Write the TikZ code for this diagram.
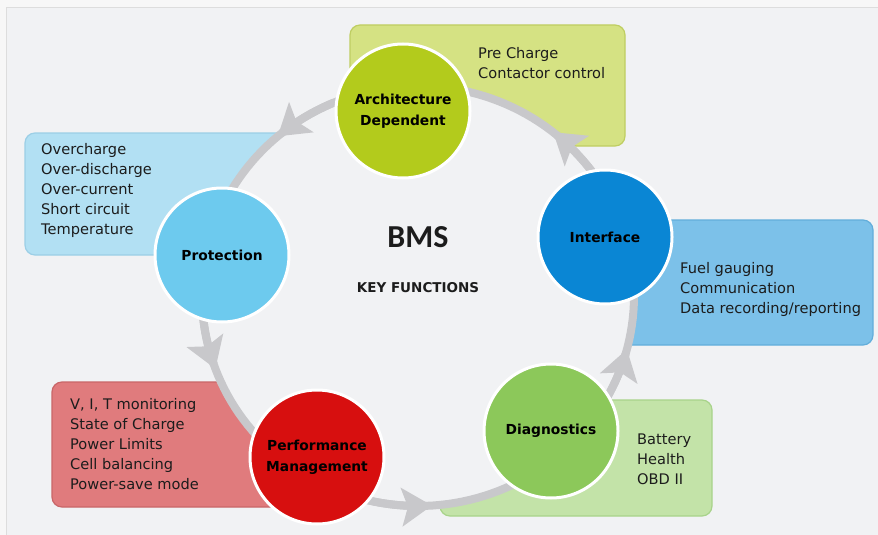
\documentclass[tikz,border=0pt]{standalone}
\usepackage{fontspec}
\setmainfont{DejaVu Sans}
\newfontfamily\bmsfont{Carlito}
\usetikzlibrary{arrows.meta}
\definecolor{outerbg}{HTML}{F7F7F7}
\definecolor{bg}{HTML}{F1F2F4}
\definecolor{framec}{HTML}{DDDDDD}
\definecolor{bandc}{HTML}{C8C8CB}
\definecolor{txt}{HTML}{1C1C1C}
\definecolor{olivebox}{HTML}{D5E283}
\definecolor{oliveedge}{HTML}{BFCE62}
\definecolor{archc}{HTML}{B3CB1C}
\definecolor{protbox}{HTML}{B2E0F3}
\definecolor{protedge}{HTML}{9CCFE6}
\definecolor{protc}{HTML}{6DCAEE}
\definecolor{intbox}{HTML}{7CC1E9}
\definecolor{intedge}{HTML}{62AEDB}
\definecolor{intc}{HTML}{0A86D4}
\definecolor{perfbox}{HTML}{E07B7D}
\definecolor{perfedge}{HTML}{C96668}
\definecolor{perfc}{HTML}{D70F0F}
\definecolor{diagbox}{HTML}{C3E3A8}
\definecolor{diagedge}{HTML}{A8D38A}
\definecolor{diagc}{HTML}{8CC85A}
\begin{document}
\begin{tikzpicture}[x=1pt,y=-1pt,
  infobox/.style={draw, line width=1.2pt, rounded corners=10pt, inner sep=0pt},
  keycircle/.style={circle, draw=white, line width=3pt, minimum size=134pt, inner sep=0pt,
    align=center, text=black, font=\bfseries\fontsize{13.8}{21}\selectfont},
  boxtext/.style={anchor=west, align=left, inner sep=0pt, text=txt,
    font=\fontsize{14.6}{20}\selectfont},
  flow/.style={draw=bandc, line width=8pt, -{Stealth[length=30pt,width=38pt,inset=6pt]}}]
\useasboundingbox (0,0) rectangle (878,535);
\fill[outerbg] (0,0) rectangle (878,535);
\fill[bg] (6,8) rectangle (878,535);
\draw[framec, line width=1pt] (6,535) -- (6,8) -- (878,8);

% boxes
\node[infobox, fill=olivebox, draw=oliveedge, minimum width=275pt, minimum height=121pt] (abox) at (487.5,85.5) {};
\node[infobox, fill=protbox, draw=protedge, minimum width=275pt, minimum height=122pt] (pbox) at (162.5,194) {};
\node[infobox, fill=intbox, draw=intedge, minimum width=273pt, minimum height=125pt] (ibox) at (736.5,282.5) {};
\node[infobox, fill=perfbox, draw=perfedge, minimum width=248pt, minimum height=125pt] (mbox) at (176,444.5) {};
\node[infobox, fill=diagbox, draw=diagedge, minimum width=272pt, minimum height=116pt] (dbox) at (576,458) {};

% ring interior and band
\fill[bg] plot[domain=0:360,samples=181] ({418+216*cos(\x)},{296+210*sin(\x)}) -- cycle;
\draw[bandc, line width=8pt] plot[domain=0:360,samples=181] ({418+216*cos(\x)},{296+210*sin(\x)}) -- cycle;

% arrowheads along the ring (behind the circles)
\draw[flow] plot[domain=34:51.3,samples=14] ({418+216*cos(-\x)},{296+210*sin(-\x)});
\draw[flow] plot[domain=113:130.5,samples=14] ({418+216*cos(-\x)},{296+210*sin(-\x)});
\draw[flow] plot[domain=183:200.3,samples=14] ({418+216*cos(-\x)},{296+210*sin(-\x)});
\draw[flow] plot[domain=256:273.7,samples=14] ({418+216*cos(-\x)},{296+210*sin(-\x)});
\draw[flow] plot[domain=328:345.3,samples=14] ({418+216*cos(-\x)},{296+210*sin(-\x)});

% key function circles
\node[keycircle, fill=archc] (arch) at (403,111) {Architecture\\Dependent};
\node[keycircle, fill=intc] (intf) at (605,237) {Interface};
\node[keycircle, fill=protc] (prot) at (222,255) {Protection};
\node[keycircle, fill=perfc] (perf) at (317,457) {Performance\\Management};
\node[keycircle, fill=diagc] (diag) at (551,431) {Diagnostics};

% centre
\node[text=txt, font=\bmsfont\bfseries\fontsize{32}{32}\selectfont] (bms) at (418,237) {BMS};
\node[text=txt, font=\bfseries\fontsize{13.5}{14}\selectfont] (keyf) at (418,288) {KEY FUNCTIONS};

% box texts
\node[boxtext] (atext) at (478,63) {Pre Charge\\Contactor control};
\node[boxtext] (ptext) at (41,190) {Overcharge\\Over-discharge\\Over-current\\Short circuit\\Temperature};
\node[boxtext] (itext) at (680,289) {Fuel gauging\\Communication\\Data recording/reporting};
\node[boxtext] (mtext) at (70,444) {V, I, T monitoring\\State of Charge\\Power Limits\\Cell balancing\\Power-save mode};
\node[boxtext] (dtext) at (637,459) {Battery\\Health\\OBD II};
\end{tikzpicture}
\end{document}
